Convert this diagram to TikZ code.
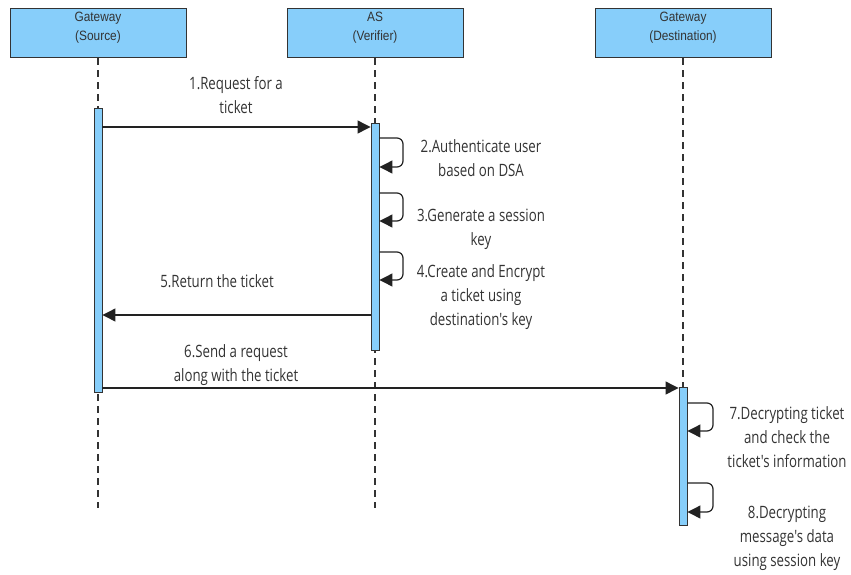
\documentclass[tikz,border=0pt]{standalone}
\usepackage{fontspec}
\usetikzlibrary{arrows.meta}
\newfontfamily\headfont{Liberation Sans}[FakeStretch=0.88]
\newfontfamily\lblfont{Open Sans}[FakeStretch=0.78]
\definecolor{boxblue}{HTML}{87CEFA}
\definecolor{ink}{HTML}{333333}
\definecolor{linec}{HTML}{222222}
\tikzset{
  head/.style={draw=ink, fill=boxblue, line width=1pt, minimum width=176pt,
    minimum height=49pt, inner sep=0pt, anchor=north, text=ink,
    font=\headfont\fontsize{13.5}{19}\selectfont, align=center},
  headtext/.style={text=ink, font=\headfont\fontsize{13.5}{19}\selectfont,
    align=center, inner sep=0pt},
  lifeline/.style={draw=ink, line width=1.1pt, dash pattern=on 7pt off 5pt},
  actbar/.style={draw=ink, fill=boxblue, line width=0.9pt, minimum width=8pt,
    inner sep=0pt, anchor=north},
  msg/.style={draw=linec, line width=1.2pt, -{Triangle[length=13pt,width=13pt]}},
  selfmsg/.style={msg, rounded corners=6pt},
  lbl/.style={text=ink, font=\lblfont\fontsize{17}{24}\selectfont, align=center,
    inner sep=0pt}
}
\begin{document}
\begin{tikzpicture}[x=1pt,y=-1pt]
\useasboundingbox (0,0) rectangle (851,574);

% participants
\node[head] (src) at (98,8) {};
\node[head] (as)  at (375,8) {};
\node[head] (dst) at (683,8) {};
\node[headtext] (srct) at (98,28) {Gateway\\(Source)};
\node[headtext] (ast)  at (375,28) {AS\\(Verifier)};
\node[headtext] (dstt) at (683,28) {Gateway\\(Destination)};

% lifelines
\draw[lifeline] (src.south) -- (src.south |- 0,508);
\draw[lifeline] (as.south) -- (as.south |- 0,508);
\draw[lifeline] (dst.south) -- (dst.south |- 0,508);

% activation bars
\node[actbar, minimum height=284pt] (srcbar) at (98,108) {};
\node[actbar, minimum height=227pt] (asbar)  at (375,123) {};
\node[actbar, minimum height=138pt] (dstbar) at (683,387) {};

% message levels
\coordinate (m1) at (0,127);
\coordinate (m5) at (0,315);
\coordinate (m6) at (0,388);

% 1: request
\draw[msg] (srcbar.east |- m1) -- (asbar.west |- m1);
\node[lbl] (l1) at (236,95) {1.Request for a\\ticket};

% 2-4: self messages on the AS
\coordinate (s2a) at (0,138); \coordinate (s2b) at (0,167);
\coordinate (s3a) at (0,193); \coordinate (s3b) at (0,221);
\coordinate (s4a) at (0,252); \coordinate (s4b) at (0,280);
\coordinate (asx) at (403,0);
\draw[selfmsg] (asbar.east |- s2a) -- (asx |- s2a) -- (asx |- s2b) -- (asbar.east |- s2b);
\draw[selfmsg] (asbar.east |- s3a) -- (asx |- s3a) -- (asx |- s3b) -- (asbar.east |- s3b);
\draw[selfmsg] (asbar.east |- s4a) -- (asx |- s4a) -- (asx |- s4b) -- (asbar.east |- s4b);
\node[lbl] (l2) at (481,158) {2.Authenticate user\\based on DSA};
\node[lbl] (l3) at (481,229) {3.Generate a session\\key};
\node[lbl] (l4) at (481,297) {4.Create and Encrypt\\a ticket using\\destination's key};

% 5: return
\draw[msg] (asbar.west |- m5) -- (srcbar.east |- m5);
\node[lbl] (l5) at (217,281) {5.Return the ticket};

% 6: request to destination
\draw[msg] (srcbar.east |- m6) -- (dstbar.west |- m6);
\node[lbl] (l6) at (236,365) {6.Send a request\\along with the ticket};

% 7-8: self messages on the destination
\coordinate (s7a) at (0,403); \coordinate (s7b) at (0,431);
\coordinate (s8a) at (0,483); \coordinate (s8b) at (0,512);
\coordinate (dsx) at (713,0);
\draw[selfmsg] (dstbar.east |- s7a) -- (dsx |- s7a) -- (dsx |- s7b) -- (dstbar.east |- s7b);
\draw[selfmsg] (dstbar.east |- s8a) -- (dsx |- s8a) -- (dsx |- s8b) -- (dstbar.east |- s8b);
\node[lbl] (l7) at (787,437) {7.Decrypting ticket\\and check the\\ticket's information};
\node[lbl] (l8) at (787,538) {8.Decrypting\\message's data\\using session key};
\end{tikzpicture}
\end{document}
